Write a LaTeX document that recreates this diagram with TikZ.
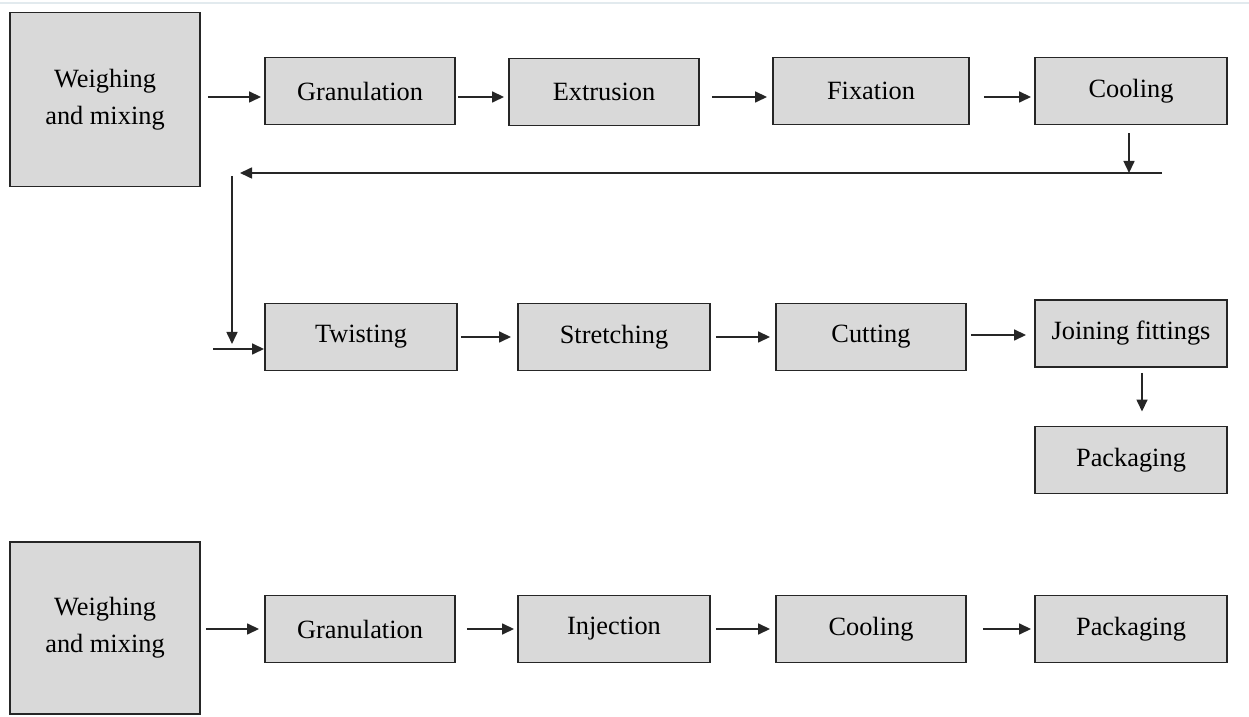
\documentclass[tikz,border=0pt]{standalone}
\usepackage{fontspec}
\setmainfont{Liberation Serif}
\colorlet{BoxFill}{black!15}
\colorlet{BoxDraw}{black!85}
\definecolor{TopRule}{RGB}{226,234,238}
\usetikzlibrary{arrows.meta, calc}
\tikzset{
    stage/.style={
        draw=BoxDraw, fill=BoxFill, line width=1.1pt,
        minimum width=3.8cm, minimum height=1.34cm,
        inner sep=2pt, align=center,
        font=\fontsize{15}{21}\selectfont
    },
    start stage/.style={
        stage, minimum height=3.48cm
    },
    flow/.style={
        draw=black!85, line width=0.9pt,
        -{Triangle[length=2.4mm, width=2.2mm]}
    }
}

\begin{document}
\begin{tikzpicture}

\useasboundingbox (0,0) rectangle (24.98,14.32);
\draw[TopRule, line width=0.6pt] (0,14.26) -- (24.98,14.26);

% Primera linea: extrusion.
\node[start stage] (weigh1) at (2.1,12.33) {Weighing\\and mixing};
\node[stage] (gran1) at (7.2,12.5) {Granulation};
\node[stage] (extr) at (12.08,12.48) {Extrusion};
\node[stage, minimum width=3.92cm] (fix) at (17.42,12.5) {Fixation};
\node[stage, minimum width=3.84cm] (cool1) at (22.62,12.5) {Cooling};

\draw[flow, shorten <=0.14cm, shorten >=0.06cm] ([yshift=-0.12cm]weigh1.east |- gran1.west) -- ([yshift=-0.12cm]gran1.west);
\draw[flow, shorten <=0.04cm, shorten >=0.08cm] ([yshift=-0.12cm]gran1.east) -- ([yshift=-0.12cm]extr.west |- gran1.east);
\draw[flow, shorten <=0.24cm, shorten >=0.1cm] ([yshift=-0.12cm]extr.east |- fix.west) -- ([yshift=-0.12cm]fix.west);
\draw[flow, shorten <=0.28cm, shorten >=0.06cm] ([yshift=-0.12cm]fix.east) -- ([yshift=-0.12cm]cool1.west);

% Retorno hacia la segunda linea.
\coordinate (back R) at (23.24,10.86);
\coordinate (back L) at (4.8,10.86);
\coordinate (down T) at (4.64,10.8);
\coordinate (down B) at (4.64,7.44);
\coordinate (entry) at (4.26,7.34);

\draw[flow, shorten <=0.16cm] ([xshift=-0.04cm]cool1.south) -- ([xshift=-0.04cm]cool1.south |- back R);
\draw[flow] (back R) -- (back L);
\draw[flow] (down T) -- (down B);

% Segunda linea.
\node[stage, minimum width=3.84cm] (twist) at (7.22,7.58) {Twisting};
\node[stage, minimum width=3.84cm] (stretch) at (12.28,7.58) {Stretching};
\node[stage] (cut) at (17.42,7.58) {Cutting};
\node[stage, minimum width=3.84cm] (join) at (22.62,7.65) {Joining fittings};
\node[stage, minimum width=3.84cm] (pack1) at (22.62,5.12) {Packaging};

\draw[flow] (entry) -- (entry -| twist.west);
\draw[flow, shorten <=0.06cm, shorten >=0.12cm] (twist.east) -- (stretch.west);
\draw[flow, shorten <=0.1cm, shorten >=0.1cm] (stretch.east) -- (cut.west);
\draw[flow, shorten <=0.08cm, shorten >=0.16cm] ([yshift=0.04cm]cut.east) -- ([yshift=0.04cm]cut.east -| join.west);
\draw[flow, shorten <=0.1cm, shorten >=0.28cm] ([xshift=0.22cm]join.south) -- ([xshift=0.22cm]pack1.north);

% Tercera linea: inyeccion.
\node[start stage, minimum height=3.44cm] (weigh2) at (2.1,1.76) {Weighing\\and mixing};
\node[stage] (gran2) at (7.2,1.74) {Granulation};
\node[stage, minimum width=3.84cm] (inj) at (12.28,1.74) {Injection};
\node[stage] (cool2) at (17.42,1.74) {Cooling};
\node[stage, minimum width=3.84cm] (pack2) at (22.62,1.74) {Packaging};

\draw[flow, shorten <=0.1cm, shorten >=0.1cm] (weigh2.east |- gran2.west) -- (gran2.west);
\draw[flow, shorten <=0.22cm, shorten >=0.06cm] (gran2.east) -- (inj.west);
\draw[flow, shorten <=0.1cm, shorten >=0.1cm] (inj.east) -- (cool2.west);
\draw[flow, shorten <=0.32cm, shorten >=0.06cm] (cool2.east) -- (pack2.west);

\end{tikzpicture}
\end{document}
